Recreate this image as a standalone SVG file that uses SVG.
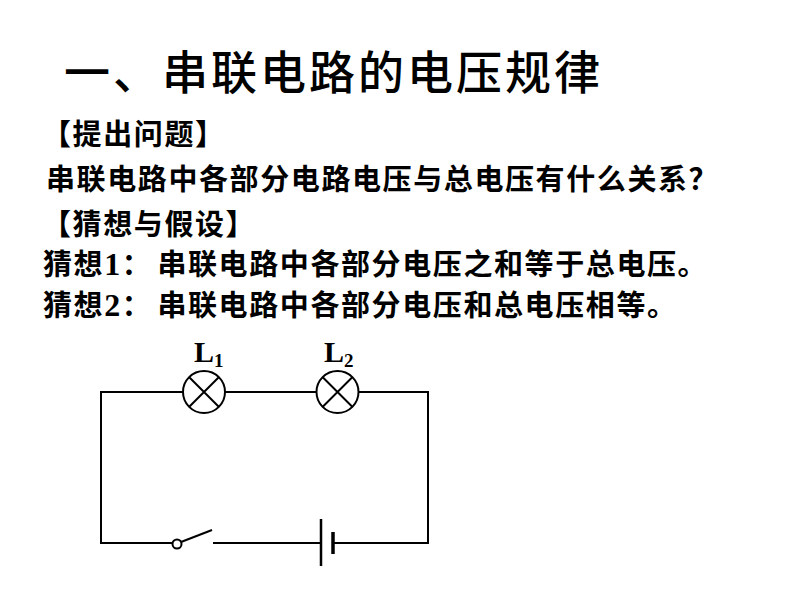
<svg xmlns="http://www.w3.org/2000/svg" width="800" height="600" viewBox="0 0 800 600">
<style>
.cn{font-family:"Noto Sans CJK SC","Noto Sans CJK JP",sans-serif;font-weight:bold;fill:#000}
.title{font-size:46px;letter-spacing:3px;font-weight:500}
.body{font-size:29px;letter-spacing:1.6px}
.num{font-family:"Liberation Serif","Times New Roman",serif;font-weight:bold;font-size:32px}
.lbl{font-family:"Liberation Serif","Times New Roman",serif;font-weight:bold;font-size:30px;fill:#000}
.sub{font-size:19px}
.w{stroke:#000;stroke-width:2;fill:none}
</style>
<rect width="800" height="600" fill="#fff"/>
<g id="texts">
<text class="cn title" x="64" y="89">一、串联电路的电压规律</text>
<text class="cn body" x="42" y="145">【提出问题】</text>
<text class="cn body" x="46" y="190">串联电路中各部分电路电压与总电压有什么关系？</text>
<text class="cn body" x="42" y="235">【猜想与假设】</text>
<text class="cn body" x="43" y="275">猜想<tspan class="num">1</tspan>：<tspan dx="5">串联电路中各部分电压之和等于总电压。</tspan></text>
<text class="cn body" x="43" y="316">猜想<tspan class="num">2</tspan>：<tspan dx="5">串联电路中各部分电压和总电压相等。</tspan></text>
</g>
<g id="connectors">
<path class="w" d="M183,392 H101 V543 H172"/>
<path class="w" d="M225,392 H316"/>
<path class="w" d="M359,392 H428 V543 H333"/>
<path class="w" d="M213,543 H321"/>
</g>
<g id="lamp-L1">
<circle class="w" cx="204" cy="392" r="21"/>
<path class="w" d="M189,377 L219,407 M219,377 L189,407"/>
<text class="lbl" x="194" y="362">L<tspan class="sub" dy="5">1</tspan></text>
</g>
<g id="lamp-L2">
<circle class="w" cx="337.5" cy="392" r="21"/>
<path class="w" d="M322.5,377 L352.5,407 M352.5,377 L322.5,407"/>
<text class="lbl" x="324" y="362">L<tspan class="sub" dy="5">2</tspan></text>
</g>
<g id="switch">
<circle class="w" cx="177" cy="544" r="4.5"/>
<path class="w" d="M181,542 L212,530"/>
</g>
<g id="battery">
<path stroke="#000" stroke-width="2.5" d="M321,519 V566"/>
<path stroke="#000" stroke-width="3.5" d="M333,532 V554"/>
</g>
</svg>
